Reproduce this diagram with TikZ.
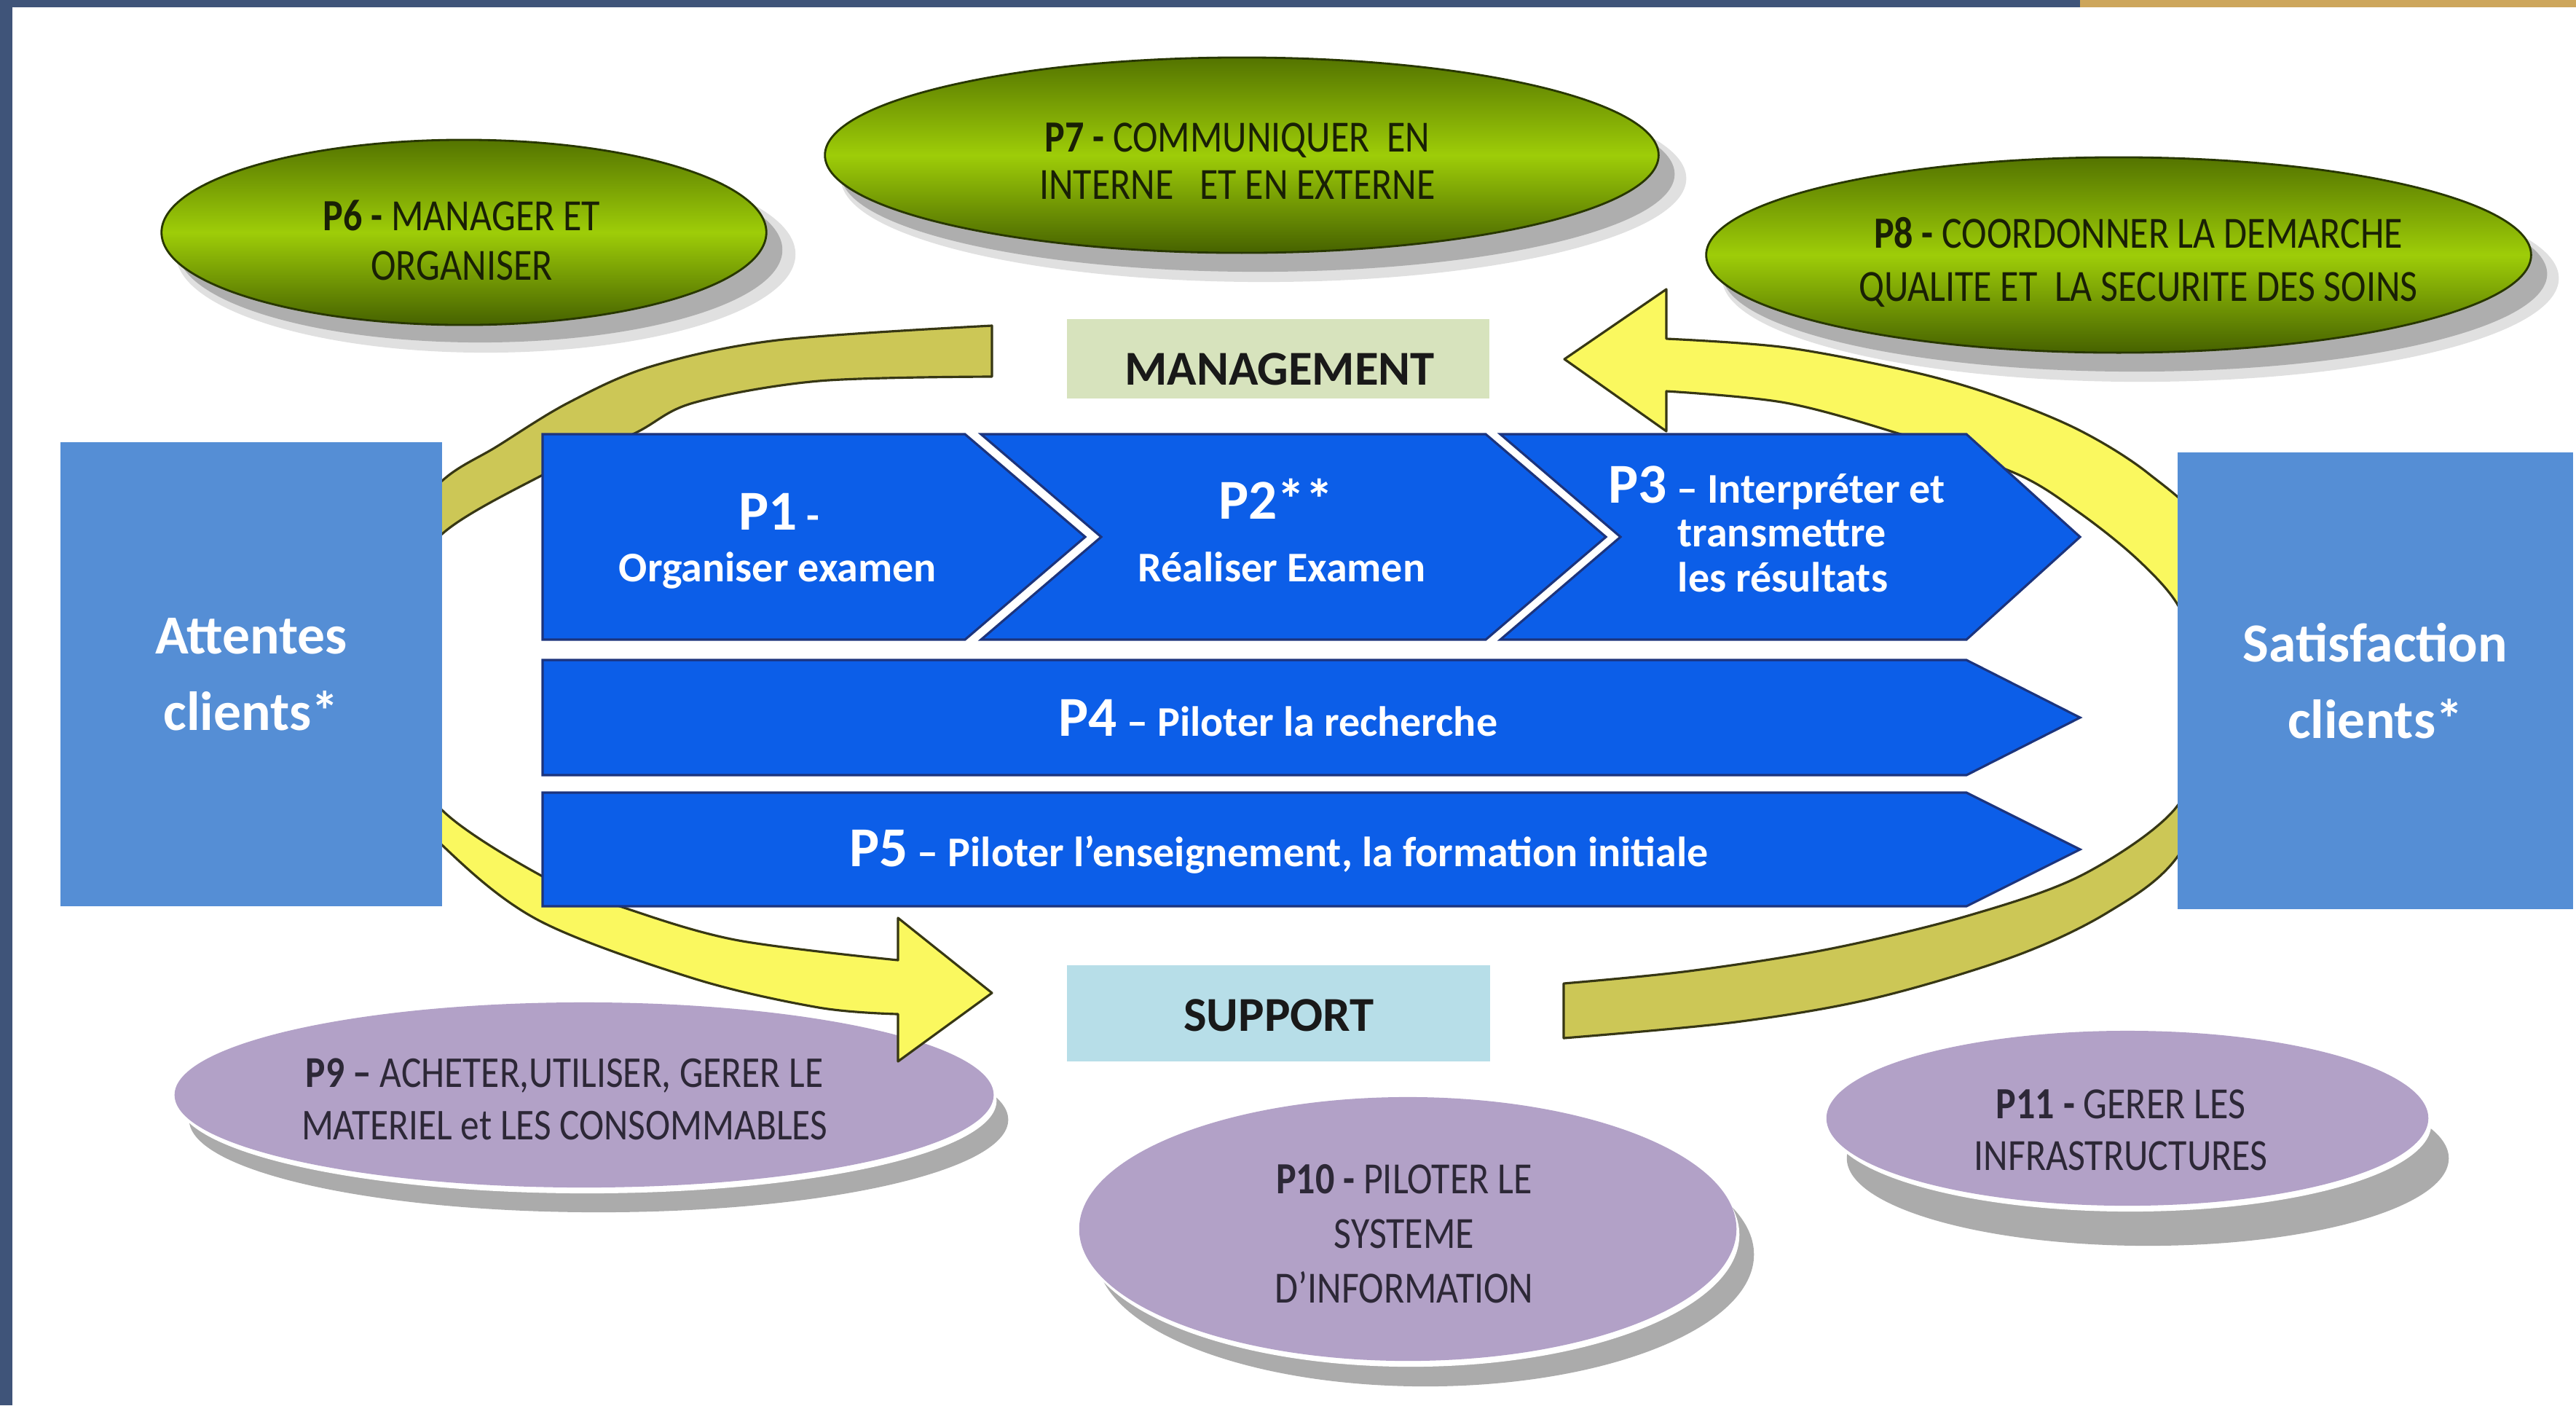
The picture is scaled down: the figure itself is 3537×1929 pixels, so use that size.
\documentclass[tikz,border=0pt]{standalone}
\usepackage{fontspec}
\setmainfont{Carlito}
\newfontfamily\condfont{Carlito}[FakeStretch=0.85]
\usetikzlibrary{shapes.geometric}
\definecolor{frameblue}{RGB}{63,84,121}
\definecolor{framegold}{RGB}{205,166,92}
\definecolor{boxblue}{RGB}{85,142,213}
\definecolor{chevblue}{RGB}{12,94,232}
\definecolor{chevedge}{RGB}{28,52,125}
\definecolor{grdark}{RGB}{84,116,0}
\definecolor{grdarkb}{RGB}{70,98,0}
\definecolor{grlight}{RGB}{158,205,8}
\definecolor{gredge}{RGB}{40,55,0}
\definecolor{lav}{RGB}{178,161,199}
\definecolor{mgmtbg}{RGB}{215,227,189}
\definecolor{suppbg}{RGB}{183,222,232}
\definecolor{arrY}{RGB}{250,248,95}
\definecolor{arrK}{RGB}{204,199,86}
\definecolor{arredge}{RGB}{55,55,20}
\definecolor{greentext}{RGB}{25,32,5}
\definecolor{lavtext}{RGB}{45,40,55}
\pgfdeclareverticalshading{leftarr}{100bp}{color(0bp)=(arrY); color(45bp)=(arrY); color(57bp)=(arrK); color(100bp)=(arrK)}
\pgfdeclareverticalshading{rightarr}{100bp}{color(0bp)=(arrK); color(42bp)=(arrK); color(54bp)=(arrY); color(100bp)=(arrY)}
\newcommand{\Pbig}{\fontsize{22}{26}\selectfont}
\begin{document}
\begin{tikzpicture}[x=0.01cm, y=-0.01cm,
  greenell/.style={ellipse, inner sep=0pt, draw=gredge, line width=0.8pt, top color=grdark, bottom color=grdarkb, middle color=grlight},
  gshadow/.style={ellipse, inner sep=0pt, fill=black, draw=none},
  lavell/.style={ellipse, inner sep=0pt, fill=lav, draw=none},
  rim/.style={ellipse, inner sep=0pt, fill=white, draw=none},
  gtext/.style={text=greentext, align=center, inner sep=0pt},
  ltext/.style={text=lavtext, align=center, inner sep=0pt},
  chev/.style={fill=chevblue, draw=chevedge, line width=0.9pt, line join=miter},
  ptxt/.style={text=white, inner sep=0pt, font=\bfseries\fontsize{16.5}{20}\selectfont},
  sidebox/.style={rectangle, inner sep=0pt, fill=boxblue, text=white, align=center, font=\bfseries\fontsize{21.5}{30}\selectfont},
  labbox/.style={rectangle, inner sep=0pt, draw=none},
  labtxt/.style={inner sep=0pt, text=black!90, font=\bfseries\fontsize{19}{22}\selectfont},
  arrowband/.style={draw=arredge, line width=0.9pt, line join=round}
]
\useasboundingbox (0,0) rectangle (3537,1929);
\fill[white] (0,0) rectangle (3537,1929);
\fill[frameblue] (0,0) rectangle (2856,10);
\fill[framegold] (2856,0) rectangle (3537,10);
\fill[frameblue] (0,0) rectangle (17,1929);

% green ellipses (management)
\node[gshadow, opacity=0.12, minimum width=8.5cm, minimum height=2.7cm] (s6a) at (667,349) {};
\node[gshadow, opacity=0.22, minimum width=8.3cm, minimum height=2.54cm] (s6b) at (659,343) {};
\node[greenell, minimum width=8.3cm, minimum height=2.54cm] (p6) at (637,319) {};
\node[gtext, font=\condfont\fontsize{17.4}{19.3}\selectfont] (p6t) at (634,330) {\textbf{P6 -} MANAGER ET\\ORGANISER};

\node[gshadow, opacity=0.12, minimum width=11.6cm, minimum height=2.84cm] (s7a) at (1735,245) {};
\node[gshadow, opacity=0.22, minimum width=11.44cm, minimum height=2.68cm] (s7b) at (1727,239) {};
\node[greenell, minimum width=11.44cm, minimum height=2.68cm] (p7) at (1705,213) {};
\node[gtext, font=\condfont\fontsize{17.4}{18.5}\selectfont] (p7t) at (1699,221) {\textbf{P7 -} COMMUNIQUER\ \ EN\\INTERNE\ \ \ ET EN EXTERNE};

\node[gshadow, opacity=0.12, minimum width=11.48cm, minimum height=2.84cm] (s8a) at (2939,382) {};
\node[gshadow, opacity=0.22, minimum width=11.32cm, minimum height=2.68cm] (s8b) at (2931,376) {};
\node[greenell, minimum width=11.32cm, minimum height=2.68cm] (p8) at (2909,350) {};
\node[gtext, font=\condfont\fontsize{17.4}{20.8}\selectfont] (p8t) at (2936,360) {\textbf{P8 -} COORDONNER LA DEMARCHE\\QUALITE ET\ \ LA SECURITE DES SOINS};

% lavender ellipses (support)
\node[gshadow, opacity=0.33, minimum width=11.24cm, minimum height=2.54cm] (s9) at (822,1537) {};
\node[rim, minimum width=11.24cm, minimum height=2.54cm] (r9) at (806,1511) {};
\node[lavell, minimum width=11.24cm, minimum height=2.54cm] (p9) at (802,1503) {};
\node[ltext, font=\condfont\fontsize{17.2}{20.5}\selectfont] (p9t) at (775,1509) {\textbf{P9 –} ACHETER,UTILISER, GERER LE\\MATERIEL et LES CONSOMMABLES};

\node[gshadow, opacity=0.33, minimum width=9.02cm, minimum height=3.62cm] (s10) at (1957,1722) {};
\node[rim, minimum width=9.02cm, minimum height=3.62cm] (r10) at (1937,1695) {};
\node[lavell, minimum width=9.02cm, minimum height=3.62cm] (p10) at (1933,1687) {};
\node[ltext, font=\condfont\fontsize{17.4}{21.3}\selectfont] (p10t) at (1928,1694) {\textbf{P10 -} PILOTER LE\\SYSTEME\\D’INFORMATION};

\node[gshadow, opacity=0.33, minimum width=8.26cm, minimum height=2.4cm] (s11) at (2949,1590) {};
\node[rim, minimum width=8.26cm, minimum height=2.4cm] (r11) at (2925,1543) {};
\node[lavell, minimum width=8.26cm, minimum height=2.4cm] (p11) at (2921,1535) {};
\node[ltext, font=\condfont\fontsize{17.4}{20.2}\selectfont] (p11t) at (2912,1551) {\textbf{P11 -} GERER LES\\INFRASTRUCTURES};

% curved arrows
\shadedraw[arrowband, shading=leftarr]
  plot[smooth, tension=0.55] coordinates {(1362,447) (1067,467) (894,503) (780,553) (682,613) (607,660) (530,750) (490,900) (515,1050) (607,1160) (739,1263) (952,1343) (1124,1383) (1233,1392)}
  -- (1233,1457) -- (1362,1363) -- (1233,1260) -- (1233,1318)
  -- plot[smooth, tension=0.55] coordinates {(1233,1318) (1009,1290) (848,1243) (745,1203) (607,1112) (550,1010) (540,920) (560,820) (607,733) (745,652) (871,595) (952,553) (1124,523) (1362,517)}
  -- cycle;
\shadedraw[arrowband, shading=rightarr]
  plot[smooth, tension=0.55] coordinates {(2288,465) (2452,477) (2624,510) (2739,543) (2854,590) (2950,650) (3030,730) (3070,880) (3060,1030) (2989,1177) (2893,1253) (2765,1313) (2574,1370) (2383,1403) (2147,1425)}
  -- (2147,1350)
  -- plot[smooth, tension=0.55] coordinates {(2147,1350) (2319,1333) (2510,1303) (2702,1257) (2861,1200) (2989,1107) (3015,1000) (3012,900) (2990,830) (2934,767) (2854,703) (2768,650) (2613,597) (2452,553) (2288,537)}
  -- (2288,592) -- (2148,493) -- (2288,397) -- cycle;

% core process chevrons
\draw[chev] (745,596) -- (1325,596) -- (1490,737) -- (1325,878) -- (745,878) -- cycle;
\draw[chev] (1347,596) -- (2040,596) -- (2205,737) -- (2040,878) -- (1347,878) -- (1512,737) -- cycle;
\draw[chev] (2060,596) -- (2700,596) -- (2856,737) -- (2700,878) -- (2060,878) -- (2225,737) -- cycle;
\draw[chev] (745,906) -- (2700,906) -- (2856,985) -- (2700,1064) -- (745,1064) -- cycle;
\draw[chev] (745,1088) -- (2700,1088) -- (2856,1166) -- (2700,1244) -- (745,1244) -- cycle;

\node[ptxt, anchor=base] (p1a) at (1070,727) {{\Pbig P1} -};
\node[ptxt, anchor=base] (p1b) at (1068,798) {Organiser examen};
\node[ptxt, anchor=base] (p2a) at (1752,712) {{\Pbig P2**}};
\node[ptxt, anchor=base] (p2b) at (1760,798) {Réaliser Examen};
\node[ptxt, anchor=base west] (p3a) at (2208,690) {{\Pbig P3} – Interpréter et};
\node[ptxt, anchor=base west] (p3b) at (2303,750) {transmettre};
\node[ptxt, anchor=base west] (p3c) at (2303,812) {les résultats};
\node[ptxt, anchor=base] (p4) at (1755,1010) {{\Pbig P4} – Piloter la recherche};
\node[ptxt, anchor=base] (p5) at (1756,1189) {{\Pbig P5} – Piloter l’enseignement, la formation initiale};

% side boxes
\node[sidebox, minimum width=5.24cm, minimum height=6.37cm] (att) at (345,925.5) {Attentes\\clients*};
\node[sidebox, minimum width=5.43cm, minimum height=6.27cm] (sat) at (3261.5,934.5) {Satisfaction\\clients*};

% labels
\node[labbox, fill=mgmtbg, minimum width=5.8cm, minimum height=1.09cm] (mgmt) at (1755,492.5) {};
\node[labtxt, anchor=base] (mgmtt) at (1757,528) {MANAGEMENT};
\node[labbox, fill=suppbg, minimum width=5.81cm, minimum height=1.32cm] (supp) at (1755.5,1391) {};
\node[labtxt, anchor=base] (suppt) at (1756,1415) {SUPPORT};
\end{tikzpicture}
\end{document}
